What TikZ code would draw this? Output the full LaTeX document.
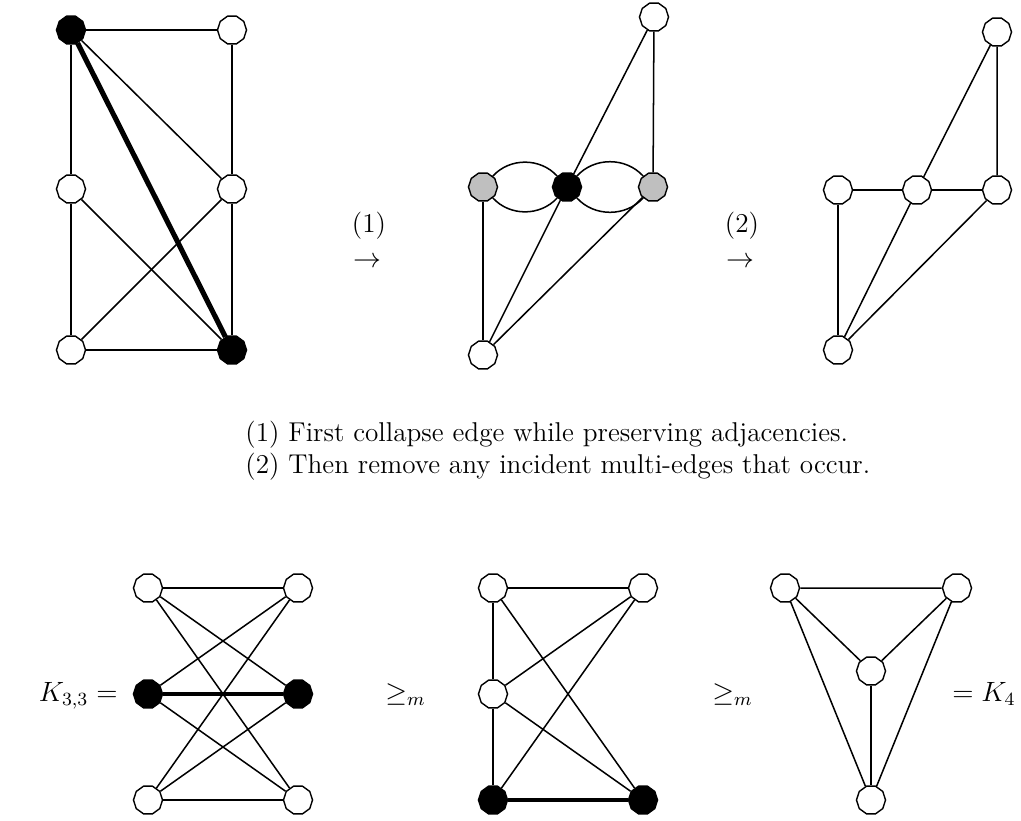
\documentclass[tikz,border=0pt]{standalone}
\usepackage{tikz}
\usetikzlibrary{shapes.geometric}

\begin{document}
\begin{tikzpicture}[x=0.43pt, y=-0.43pt,
    vtx/.style={draw, regular polygon, regular polygon sides=10, minimum size=12.5pt, inner sep=0pt, line width=0.6pt, fill=white},
    blk/.style={vtx, fill=black},
    gry/.style={vtx, fill=gray!50},
    edge/.style={line width=0.65pt},
    dbl/.style={line width=1pt},
    hvy/.style={line width=2.2pt},
    mid/.style={line width=1.5pt},
    lbl/.style={font=\fontsize{11.7}{14}\selectfont, inner sep=0pt}]
\useasboundingbox (0,0) rectangle (1021,820);

% First graph, edge to collapse
\node[blk] (a1) at (71,30) {};
\node[vtx] (b1) at (232,30) {};
\node[vtx] (c1) at (71,189) {};
\node[vtx] (d1) at (232,189) {};
\node[vtx] (e1) at (71,350) {};
\node[blk] (f1) at (232,350) {};
\draw[edge] (a1) -- (b1) -- (d1) -- (f1);
\draw[edge] (e1) -- (c1) -- (a1);
\draw[dbl] (e1) -- (f1);
\draw[edge] (a1) -- (d1) -- (e1);
\draw[edge] (c1) -- (f1);
\draw[hvy] (a1) -- (f1);

% Step labels
\node[lbl] (s1) at (369,226) {(1)};
\node[lbl] (r1) at (367,262) {$\rightarrow$};
\node[lbl] (s2) at (742,226) {(2)};
\node[lbl] (r2) at (740,262) {$\rightarrow$};

% Second graph, after collapse
\node[vtx] (t2) at (654,17) {};
\node[gry] (l2) at (483,187) {};
\node[blk] (m2) at (567,187) {};
\node[gry] (q2) at (653,187) {};
\node[vtx] (b2) at (483,355) {};
\draw[edge] (t2) -- (m2) -- (b2);
\draw[edge] (t2) -- (q2) -- (b2);
\draw[edge] (l2) -- (b2);
\draw[edge] (l2) to[bend left=48] (m2);
\draw[edge] (l2) to[bend right=48] (m2);
\draw[edge] (m2) to[bend left=48] (q2);
\draw[edge] (m2) to[bend right=48] (q2);

% Third graph, multi-edges removed
\node[vtx] (t3) at (997,32) {};
\node[vtx] (l3) at (838,190) {};
\node[vtx] (m3) at (917,190) {};
\node[vtx] (q3) at (997,190) {};
\node[vtx] (b3) at (838,350) {};
\draw[edge] (t3) -- (m3) -- (b3);
\draw[edge] (t3) -- (q3) -- (b3);
\draw[dbl] (l3) -- (m3) -- (q3);
\draw[edge] (l3) -- (b3);

% Explanation
\node[lbl, anchor=base west] (n1) at (245,441) {(1) First collapse edge while preserving adjacencies.};
\node[lbl, anchor=base west] (n2) at (245,473) {(2) Then remove any incident multi-edges that occur.};

% K33
\node[vtx] (ktl) at (148,588) {};
\node[vtx] (ktr) at (298,588) {};
\node[blk] (kml) at (148,694) {};
\node[blk] (kmr) at (298,694) {};
\node[vtx] (kbl) at (148,800) {};
\node[vtx] (kbr) at (298,800) {};
\draw[edge] (ktl) -- (ktr);
\draw[edge] (kbl) -- (kbr);
\draw[edge] (ktl) -- (kmr) -- (kbl) -- (ktr) -- (kml) -- (kbr) -- (ktl);
\draw[mid] (kml) -- (kmr);
\node[lbl, anchor=base east] (k33) at (118,701) {$K_{3,3} =$};
\node[lbl, anchor=base west] (ge1) at (385,701) {$\geq_m$};

% Minor after one contraction
\node[vtx] (gtl) at (493,588) {};
\node[vtx] (gtr) at (643,588) {};
\node[vtx] (gml) at (493,694) {};
\node[blk] (gbl) at (493,800) {};
\node[blk] (gbr) at (643,800) {};
\draw[edge] (gtr) -- (gtl) -- (gml) -- (gbl);
\draw[edge] (gtl) -- (gbr);
\draw[edge] (gtr) -- (gml) -- (gbr);
\draw[edge] (gtr) -- (gbl);
\draw[mid] (gbl) -- (gbr);
\node[lbl, anchor=base west] (ge2) at (712,701) {$\geq_m$};

% K4
\node[vtx] (htl) at (785,588) {};
\node[vtx] (htr) at (957,588) {};
\node[vtx] (hc) at (871,671) {};
\node[vtx] (hb) at (871,800) {};
\draw[edge] (htl) -- (htr) -- (hc) -- (htl) -- (hb) -- (htr);
\draw[edge] (hc) -- (hb);
\node[lbl, anchor=base west] (k4) at (952,701) {$= K_4$};
\end{tikzpicture}
\end{document}
